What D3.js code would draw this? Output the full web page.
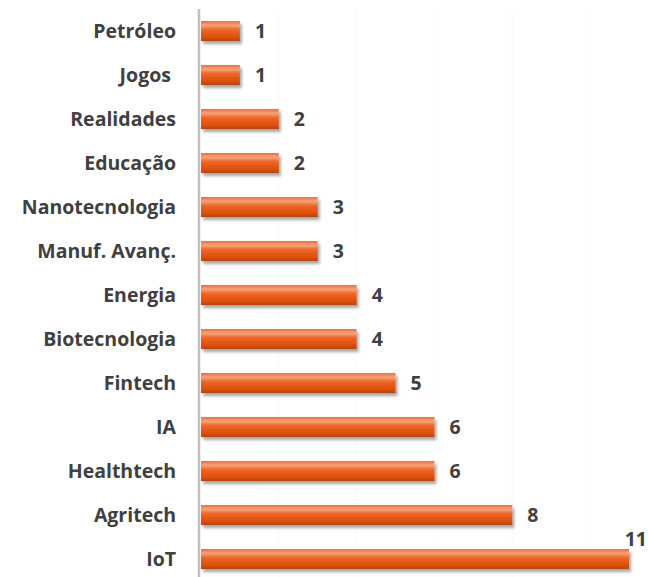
<!DOCTYPE html>
<html>
<head>
<meta charset="utf-8">
<script src="https://cdn.jsdelivr.net/npm/d3@7"></script>
<style>
  body { margin: 0; background: #fff; }
  svg { display: block; }
</style>
</head>
<body>
<div id="chart"></div>
<script>
// dados do gráfico
var categorias = ['Petróleo', 'Jogos ', 'Realidades', 'Educação', 'Nanotecnologia', 'Manuf. Avanç.',
  'Energia', 'Biotecnologia', 'Fintech', 'IA', 'Healthtech', 'Agritech', 'IoT'];
var valores = [1, 1, 2, 2, 3, 3, 4, 4, 5, 6, 6, 8, 11];
var grade = [2, 4, 6, 8, 10];

var w = 648, h = 577;
var fonte = '"Open Sans", sans-serif';

var svg = d3.select('#chart').append('svg')
  .attr('width', w)
  .attr('height', h);

var defs = svg.append('defs');

// gradiente laranja com brilho em cima
var grad = defs.append('linearGradient')
  .attr('id', 'barra')
  .attr('x1', 0).attr('y1', 0).attr('x2', 0).attr('y2', 1);
grad.append('stop').attr('offset', '0%').attr('stop-color', '#e9703a');
grad.append('stop').attr('offset', '22%').attr('stop-color', '#f6a27c');
grad.append('stop').attr('offset', '45%').attr('stop-color', '#ec6424');
grad.append('stop').attr('offset', '80%').attr('stop-color', '#e0500f');
grad.append('stop').attr('offset', '100%').attr('stop-color', '#b4440f');

var sombra = defs.append('filter').attr('id', 'sombra')
  .attr('x', '-5%').attr('y', '-30%').attr('width', '115%').attr('height', '190%');
sombra.append('feGaussianBlur').attr('in', 'SourceAlpha').attr('stdDeviation', 1.6);
sombra.append('feOffset').attr('dx', 2).attr('dy', 3).attr('result', 'off');
sombra.append('feComponentTransfer').append('feFuncA').attr('type', 'linear').attr('slope', 0.35);
var merge = sombra.append('feMerge');
merge.append('feMergeNode');
merge.append('feMergeNode').attr('in', 'SourceGraphic');

var x = d3.scaleLinear()
  .domain([0, 11])
  .range([201, 629]);

var y = d3.scaleBand()
  .domain(categorias)
  .range([9, 581])
  .paddingInner(0.545)
  .paddingOuter(0.2725);

// linhas de grade quase invisíveis
svg.append('g')
  .selectAll('line')
  .data(grade)
  .enter()
  .append('line')
  .attr('x1', d => x(d)).attr('x2', d => x(d))
  .attr('y1', 9).attr('y2', h)
  .attr('stroke', '#fafafa')
  .attr('stroke-width', 1);

// barras
svg.append('g')
  .selectAll('rect')
  .data(valores)
  .enter()
  .append('rect')
  .attr('x', x(0))
  .attr('y', (d, i) => y(categorias[i]))
  .attr('width', d => x(d) - x(0))
  .attr('height', y.bandwidth())
  .attr('fill', 'url(#barra)')
  .attr('filter', 'url(#sombra)');

// eixo vertical
svg.append('line')
  .attr('x1', 199).attr('x2', 199)
  .attr('y1', 9).attr('y2', h)
  .attr('stroke', '#c0c0c0')
  .attr('stroke-width', 2.5);

// rótulos das categorias
svg.append('g')
  .selectAll('text')
  .data(categorias)
  .enter()
  .append('text')
  .attr('x', 176)
  .attr('y', d => y(d) + y.bandwidth() / 2)
  .attr('dy', '0.36em')
  .attr('text-anchor', 'end')
  .attr('font-family', fonte)
  .attr('font-weight', 'bold')
  .attr('font-size', '19.5px')
  .attr('fill', '#404040')
  .style('white-space', 'pre')
  .text(d => d);

// rótulos de valor
svg.append('g')
  .selectAll('text')
  .data(valores)
  .enter()
  .append('text')
  .attr('x', d => d === 11 ? x(d) + 18 : x(d) + 15)
  .attr('y', (d, i) => d === 11 ? y(categorias[i]) - 3 : y(categorias[i]) + y.bandwidth() / 2)
  .attr('dy', d => d === 11 ? 0 : '0.36em')
  .attr('text-anchor', d => d === 11 ? 'end' : 'start')
  .attr('font-family', fonte)
  .attr('font-weight', 'bold')
  .attr('font-size', '19.5px')
  .attr('fill', '#404040')
  .text(d => d);
</script>
</body>
</html>
